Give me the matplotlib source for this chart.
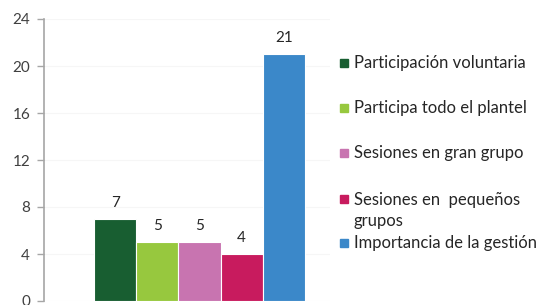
import matplotlib
matplotlib.use("Agg")
import matplotlib.pyplot as plt
from matplotlib.patches import Rectangle

categories = ["Participación voluntaria", "Participa todo el plantel",
              "Sesiones en gran grupo", "Sesiones en  pequeños\ngrupos",
              "Importancia de la gestión"]
values = [7, 5, 5, 4, 21]
colors = ["#185e31", "#97c83e", "#c874b0", "#c81b5e", "#3b88c9"]
yticks = [0, 4, 8, 12, 16, 20, 24]

W, H = 545, 305
fig = plt.figure(figsize=(W / 100, H / 100), dpi=100)
plt.rcParams['font.family'] = ['Lato', 'DejaVu Sans']

ax_l, ax_r = 44, 330
ax_t, ax_b = 19, 301
ax = fig.add_axes([ax_l / W, 1 - ax_b / H, (ax_r - ax_l) / W, (ax_b - ax_t) / H])

x = list(range(len(values)))
bars = ax.bar(x, values, width=1.0, color=colors, edgecolor="white", linewidth=0.8, zorder=3)
px_per_unit = 42.2
ax.set_xlim(-0.5 - (94 - ax_l) / px_per_unit, -0.5 + (ax_r - 94) / px_per_unit)
ax.set_ylim(0, 24)
ax.set_yticks(yticks)
ax.set_yticklabels([str(t) for t in yticks], fontsize=11, color="#404040")
ax.set_xticks([])
for s in ["top", "right", "bottom"]:
    ax.spines[s].set_visible(False)
ax.spines["left"].set_color("#a6a6a6")
ax.spines["left"].set_linewidth(1.2)
ax.tick_params(axis="y", direction="out", length=5, width=1, color="#a6a6a6", pad=5)
ax.yaxis.grid(True, color="#f6f6f6", linewidth=0.8, zorder=0)

for xi, v in zip(x, values):
    ax.annotate(str(v), (xi, v), xytext=(0, 11.5), textcoords="offset points",
                ha="center", va="center", fontsize=11, color="#262626")

# legend
rows_y = [63, 108, 153, 210.5, 243]
marker_y = [63, 108, 153, 199, 243]
for cat, col, ry, my in zip(categories, colors, rows_y, marker_y):
    fig.patches.append(Rectangle((340 / W, 1 - (my + 4) / H), 8 / W, 8 / H,
                                 transform=fig.transFigure, color=col, figure=fig))
    fig.text(354 / W, 1 - ry / H, cat, fontsize=12, color="#262626",
             ha="left", va="center", linespacing=1.45)

fig.savefig("out.png", dpi=100)
